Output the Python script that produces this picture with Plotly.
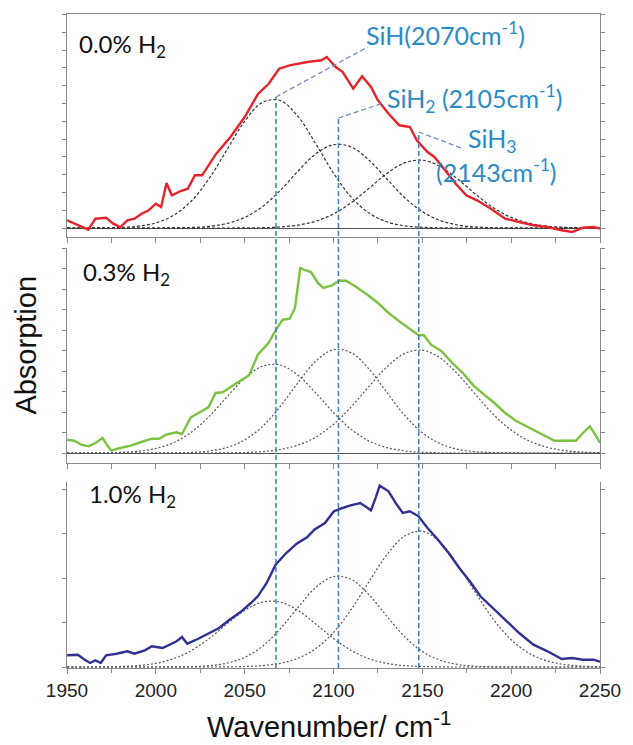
import plotly.graph_objects as go

# ---------------- data ----------------
# 0.0 % H2 (red) measured spectrum
w_red = [1950, 1954, 1958, 1962, 1966, 1972, 1976, 1980, 1984, 1988, 1992, 1996, 2000, 2003,
         2006, 2009, 2014, 2018, 2022, 2026, 2034, 2042, 2050, 2057.5, 2063.4, 2069.4, 2075.3,
         2085.3, 2093.2, 2096.2, 2101.2, 2105.2, 2111.1, 2116.1, 2121.1, 2125, 2131, 2137, 2143,
         2146.9, 2152.9, 2156.8, 2162.8, 2168.8, 2174.7, 2180.7, 2188.6, 2196.6, 2204.5, 2212.5,
         2220.5, 2228.4, 2234.4, 2240.4, 2246.3, 2250]
a_red = [7.7, 4.3, 1.0, -1.7, 9.3, 10.3, 4.3, 1.0, 7.7, 9.3, 14.3, 17.7, 24.3, 21.0,
         45.0, 32.7, 37.0, 39.3, 52.7, 52.7, 74.3, 91.0, 111.0, 134.0, 144.0, 159.3, 162.7,
         166.0, 167.7, 171.0, 161.0, 156.0, 139.3, 151.7, 141.0, 127.7, 114.3, 102.7, 101.0,
         87.7, 76.0, 71.0, 57.7, 44.3, 32.7, 27.7, 19.3, 9.3, 6.0, 2.7,
         1.0, -2.3, -4.0, 0.3, 1.0, -0.7]

# 0.3 % H2 (green) measured spectrum
w_green = [1950.1, 1954.1, 1958.0, 1962.0, 1966.0, 1970.0, 1973.0, 1975.0, 1979.9, 1985.9, 1991.8,
           1997.8, 2001.8, 2005.8, 2011.7, 2014.7, 2019.7, 2025.6, 2029.6, 2033.6, 2037.6, 2045.5,
           2052.5, 2057.4, 2063.4, 2068.4, 2071.4, 2075.3, 2078.3, 2081.3, 2083.3, 2087.3, 2091.2,
           2094.2, 2099.2, 2103.2, 2107.1, 2113.1, 2119.1, 2125.0, 2131.0, 2137.0, 2142.9, 2147.9,
           2150.9, 2154.9, 2160.8, 2166.8, 2172.8, 2178.7, 2184.7, 2190.6, 2196.6, 2202.6, 2210.5,
           2218.5, 2224.4, 2230.4, 2236.4, 2240.4, 2244.3, 2247.3, 2250]
a_green = [13.3, 12.3, 8.3, 6.7, 10.0, 15.0, 6.7, 2.3, 5.0, 7.3, 11.0,
           14.3, 14.3, 18.3, 20.7, 19.0, 35.7, 41.7, 45.7, 60.0, 60.7, 70.0,
           77.7, 98.3, 110.0, 125.7, 133.3, 134.3, 145.0, 185.0, 183.3, 181.0, 170.0,
           165.0, 167.7, 172.3, 172.3, 165.7, 158.3, 150.0, 140.0, 131.7, 124.3, 117.7,
           117.7, 108.3, 101.7, 90.0, 80.0, 67.7, 58.3, 50.0, 40.0, 32.3, 25.0,
           17.7, 12.3, 12.3, 12.3, 20.0, 26.7, 18.3, 10.0]

# 1.0 % H2 (blue) measured spectrum
w_blue = [1950.1, 1956.1, 1960.0, 1963.0, 1966.0, 1969.0, 1972.0, 1977.9, 1983.9, 1987.9, 1993.8,
          1997.8, 2003.8, 2007.7, 2011.7, 2014.7, 2017.7, 2023.6, 2029.6, 2035.6, 2041.5, 2047.5,
          2053.5, 2057.4, 2062.4, 2067.4, 2073.4, 2079.3, 2085.3, 2089.2, 2095.2, 2100.2, 2105.2,
          2109.1, 2115.1, 2121.1, 2124.0, 2126.0, 2131.0, 2135.0, 2139.0, 2142.9, 2147.9, 2152.9,
          2158.8, 2164.8, 2170.8, 2176.7, 2182.7, 2188.7, 2196.6, 2204.5, 2212.5, 2220.5, 2228.4,
          2234.4, 2240.4, 2246.3, 2250]
a_blue = [11.7, 12.3, 7.3, 4.0, 6.7, 4.0, 11.7, 13.3, 15.7, 13.3, 16.7,
          20.7, 19.0, 22.3, 25.7, 30.0, 23.3, 28.0, 33.3, 39.0, 47.3, 54.7,
          64.0, 70.7, 84.0, 102.3, 114.0, 123.3, 130.0, 137.3, 144.0, 155.7, 159.0,
          161.3, 164.0, 156.7, 170.7, 181.3, 175.7, 164.0, 154.0, 155.7, 150.7, 139.0,
          127.3, 114.0, 99.0, 85.7, 70.7, 60.7, 47.3, 34.0, 22.3, 15.7, 8.0,
          9.0, 7.3, 7.3, 5.3]

# fitted components (dotted), sampled every 10 cm-1
w_fit = [1950, 1960, 1970, 1980, 1990, 2000, 2010, 2020, 2030, 2040, 2050, 2060, 2070, 2080, 2090, 2100,
         2110, 2120, 2130, 2140, 2150, 2160, 2170, 2180, 2190, 2200, 2210, 2220, 2230, 2240, 2250]

top_sih = [0, 0, 0.1, 0.5, 1.8, 5.1, 12.7, 27.0, 49.5, 78.2, 106.7, 125.6, 127.5, 111.6, 84.3, 54.9,
           30.8, 14.9, 6.2, 2.2, 0.7, 0.2, 0, 0, 0, 0, 0, 0, 0, 0, 0]
top_sih2 = [0, 0, 0, 0, 0, 0, 0.1, 0.5, 1.6, 4.5, 10.5, 21.4, 37.5, 56.8, 74.1, 83.4,
            81.0, 67.8, 49.0, 30.5, 16.4, 7.6, 3.0, 1.0, 0.3, 0.1, 0, 0, 0, 0, 0]
top_sih3 = [0, 0, 0, 0, 0, 0, 0, 0, 0, 0, 0.1, 0.3, 1.0, 2.9, 6.8, 14.0,
            25.3, 39.7, 54.5, 65.1, 67.8, 61.6, 48.8, 33.7, 20.3, 10.6, 4.9, 1.9, 0.7, 0.2, 0.1]

mid_sih = [0, 0, 0.2, 0.6, 1.7, 4.5, 10.4, 20.8, 36.6, 56.0, 74.7, 86.8, 88.0, 77.8, 60.0, 40.3,
           23.6, 12.0, 5.4, 2.1, 0.7, 0.2, 0, 0, 0, 0, 0, 0, 0, 0, 0]
mid_sih2 = [0, 0, 0, 0, 0, 0, 0.2, 0.6, 2.0, 5.5, 13.0, 26.5, 46.5, 70.3, 91.8, 103.3,
            100.3, 84.0, 60.6, 37.8, 20.3, 9.4, 3.7, 1.3, 0.4, 0.1, 0, 0, 0, 0, 0]
mid_sih3 = [0, 0, 0, 0, 0, 0, 0, 0, 0, 0.2, 0.5, 1.4, 3.5, 7.9, 15.9, 28.6,
            46.2, 66.6, 86.0, 99.4, 102.8, 95.1, 78.7, 58.3, 38.6, 22.9, 12.2, 5.8, 2.5, 0.9, 0.3]

bot_sih = [0, 0, 0.1, 0.5, 1.4, 3.6, 8.3, 16.5, 28.5, 43.0, 56.6, 64.9, 64.9, 56.6, 43.0, 28.5,
           16.5, 8.3, 3.6, 1.4, 0.5, 0.1, 0, 0, 0, 0, 0, 0, 0, 0, 0]
bot_sih2 = [0, 0, 0, 0, 0, 0, 0.1, 0.4, 1.3, 3.8, 9.6, 20.7, 38.1, 59.6, 79.5, 90.3,
            87.5, 72.2, 50.8, 30.4, 15.5, 6.8, 2.5, 0.8, 0.2, 0.1, 0, 0, 0, 0, 0]
bot_sih3 = [0, 0, 0, 0, 0, 0, 0, 0, 0, 0.1, 0.5, 1.4, 3.7, 8.7, 18.4, 34.6,
            57.6, 85.3, 112.2, 130.9, 135.7, 124.8, 102.0, 74.0, 47.6, 27.3, 13.8, 6.2, 2.5, 0.9, 0.3]

# peak positions marked by dashed lines (cm-1)
peak_pos = [2067.6, 2102.8, 2148.0]
panel_labels = ["0.0% H<sub>2</sub>", "0.3% H<sub>2</sub>", "1.0% H<sub>2</sub>"]
x_ticks = [1950, 2000, 2050, 2100, 2150, 2200, 2250]

# ---------------- figure ----------------
W, H = 633, 745
ML, MR, MT, MB = 67, 25, 14, 77
PH = H - MT - MB
PW = W - ML - MR


def py(ypx):
    return (H - MB - ypx) / PH


def px(xpx):
    return (xpx - ML) / PW


fig = go.Figure()

spec_col = ["#E5232B", "#7CC242", "#2E3192"]
fit_col = ["#333333", "#555555", "#555555"]
fit_dash = ["3px,2px", "2px,2px", "2px,2px"]
axes = [("x", "y"), ("x2", "y2"), ("x3", "y3")]
fits = [(top_sih, top_sih2, top_sih3), (mid_sih, mid_sih2, mid_sih3), (bot_sih, bot_sih2, bot_sih3)]
specs = [(w_red, a_red), (w_green, a_green), (w_blue, a_blue)]

for i in range(3):
    xa, ya = axes[i]
    for comp in fits[i]:
        fig.add_trace(go.Scatter(x=w_fit, y=comp, mode="lines", xaxis=xa, yaxis=ya,
                                 line=dict(color=fit_col[i], width=1.2, dash=fit_dash[i], shape="spline"),
                                 showlegend=False, hoverinfo="skip"))
    fig.add_trace(go.Scatter(x=specs[i][0], y=specs[i][1], mode="lines", xaxis=xa, yaxis=ya,
                             line=dict(color=spec_col[i], width=2.4), showlegend=False))

axcol = "#8a8a8a"
common_x = dict(range=[1950, 2250], showline=True, linecolor=axcol, linewidth=1, showgrid=False,
                zeroline=False, ticks="outside", ticklen=5, tickcolor=axcol)
common_y = dict(showline=True, linecolor=axcol, linewidth=1, showgrid=False, mirror="ticks",
                ticks="outside", ticklen=4, tickcolor=axcol, showticklabels=False,
                zeroline=True, zerolinecolor="#555555", zerolinewidth=1, tickmode="linear", tick0=0)

fig.update_layout(
    width=W, height=H, margin=dict(l=ML, r=MR, t=MT, b=MB),
    paper_bgcolor="white", plot_bgcolor="white",
    xaxis=dict(**common_x, domain=[0, 1], anchor="y", mirror=True, showticklabels=False,
               tickmode="linear", tick0=1950, dtick=25),
    yaxis=dict(**common_y, domain=[py(237), 1], anchor="x", range=[-9, 214], dtick=17.8),
    xaxis2=dict(**common_x, domain=[0, 1], anchor="y2", showticklabels=False,
                tickmode="linear", tick0=1950, dtick=25),
    yaxis2=dict(**common_y, domain=[py(463), py(248)], anchor="x2", range=[-10, 205], dtick=20.5),
    xaxis3=dict(**common_x, domain=[0, 1], anchor="y3", tickvals=x_ticks,
                ticktext=[str(v) for v in x_ticks],
                tickfont=dict(family="Liberation Sans, Arial", size=19, color="#222222"),
                minor=dict(ticks="outside", dtick=25, tick0=1950, ticklen=4, tickcolor=axcol)),
    yaxis3=dict(**common_y, domain=[0, py(482)], anchor="x3", range=[-1, 185], dtick=44.5),
)

# vertical dashed peak lines through all panels
line_tops = [97, 118, 132]
for pos, top in zip(peak_pos, line_tops):
    fig.add_shape(type="line", xref="x3", yref="paper", x0=pos, x1=pos, y0=0, y1=py(top),
                  line=dict(color="#3B7DC4", width=1.5, dash="5px,3px"))

# leader lines from the labels
leaders = [(peak_pos[0], 97, 2119.2, 47), (peak_pos[1], 118, 2128.0, 103), (peak_pos[2], 132, 2171.9, 148)]
for x0, y0, x1, y1 in leaders:
    fig.add_shape(type="line", xref="x3", yref="paper", x0=x0, x1=x1, y0=py(y0), y1=py(y1),
                  line=dict(color="#7090BC", width=1.3, dash="5px,3px"))

lab_font = dict(family="Lato, Open Sans", size=25, color="#2B8BC9")
blue_labels = [("SiH(2070cm<sup>-1</sup>)", 368, 34),
               ("SiH<sub>2</sub> (2105cm<sup>-1</sup>)", 390, 98),
               ("SiH<sub>3</sub>", 472, 140),
               ("(2143cm<sup>-1</sup>)", 440, 170)]
for txt, xx, yy in blue_labels:
    fig.add_annotation(text=txt, xref="paper", yref="paper", x=px(xx), y=py(yy),
                       xanchor="left", yanchor="middle", showarrow=False, font=lab_font)

panel_pos = [(77, 45), (81, 273), (87, 495)]
for txt, (xx, yy) in zip(panel_labels, panel_pos):
    fig.add_annotation(text=txt, xref="paper", yref="paper", x=px(xx), y=py(yy),
                       xanchor="left", yanchor="middle", showarrow=False,
                       font=dict(family="Lato, Open Sans", size=24, color="#111111"))

fig.add_annotation(text="Wavenumber/ cm<sup>-1</sup>", xref="paper", yref="paper",
                   x=px(333), y=py(725), xanchor="center", yanchor="middle", showarrow=False,
                   font=dict(family="Liberation Sans, Arial", size=29, color="#111111"))
fig.add_annotation(text="Absorption", xref="paper", yref="paper", textangle=-90,
                   x=px(25), y=py(345), xanchor="center", yanchor="middle", showarrow=False,
                   font=dict(family="Liberation Sans, Arial", size=29, color="#111111"))

fig.write_html("out.html")
